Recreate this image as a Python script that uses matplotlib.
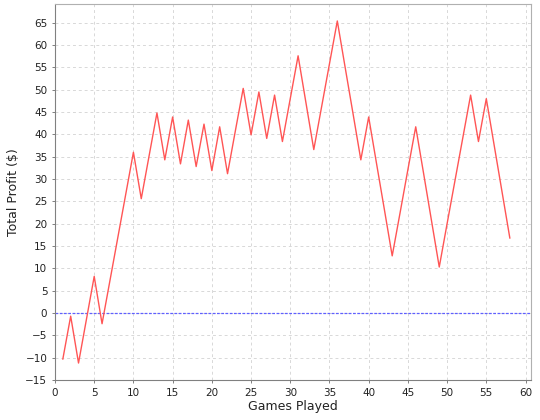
import matplotlib
matplotlib.use('Agg')
import matplotlib.pyplot as plt
import numpy as np

games = list(range(1, 59))
profit = [-10.3, -0.7, -11.2, -1.5, 8.2, -2.4, 7.2, 16.8, 26.4, 36.0,
          25.6, 35.2, 44.8, 34.3, 43.9, 33.4, 43.2, 32.8, 42.3, 31.9,
          41.7, 31.2, 40.8, 50.3, 39.9, 49.5, 39.1, 48.8, 38.4, 48.0,
          57.6, 47.1, 36.6, 46.2, 55.8, 65.4, 55.0, 44.7, 34.3, 43.9,
          33.5, 23.2, 12.8, 22.4, 32.1, 41.7, 31.3, 20.8, 10.3, 20.0,
          29.6, 39.2, 48.8, 38.4, 48.0, 37.6, 27.2, 16.8]

plt.rcParams['font.family'] = 'DejaVu Sans'
fig = plt.figure(figsize=(5.4, 4.2), dpi=100)
ax = fig.add_axes([55/540, 40/420, 476/540, 376/420])

ax.plot(games, profit, color='#ff5555', linewidth=1.0, zorder=3)
ax.axhline(0, color='#6060ff', linewidth=0.9, linestyle=(0, (2.2, 1.2)), zorder=2)

ax.set_xlim(0, 60.7)
ax.set_ylim(-15, 69.2)
ax.set_xticks(np.arange(0, 61, 5))
ax.set_yticks(np.arange(-15, 66, 5))
ax.grid(True, color='#d8d8d8', linestyle=(0, (3, 3)), linewidth=0.7)
ax.set_axisbelow(True)

for s in ax.spines.values():
    s.set_color('#b0b0b0')
ax.spines['left'].set_color('#808080')
ax.spines['bottom'].set_color('#808080')
ax.tick_params(colors='#808080', labelcolor='#222222', labelsize=7.5, length=2, width=0.7)

ax.set_xlabel('Games Played', fontsize=9, color='#222222', labelpad=2)
ax.set_ylabel('Total Profit ($)', fontsize=9, color='#222222', labelpad=4)

fig.savefig('out.png', dpi=100)
